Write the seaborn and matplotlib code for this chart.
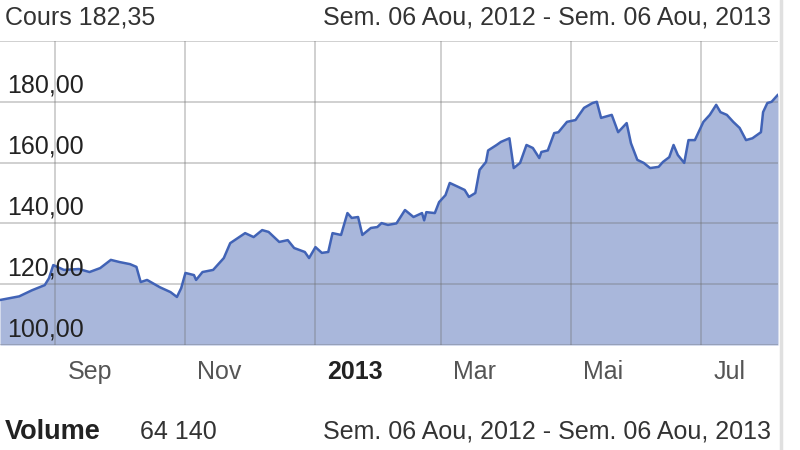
import pandas as pd
import seaborn as sns
import matplotlib.pyplot as plt
from matplotlib.lines import Line2D
from matplotlib.transforms import offset_copy

# Price data (date, closing price)
dates = ['2012-08-06', '2012-08-15', '2012-08-21', '2012-08-27', '2012-08-29', '2012-08-31',
         '2012-09-05', '2012-09-12', '2012-09-17', '2012-09-22', '2012-09-27', '2012-10-01',
         '2012-10-06', '2012-10-09', '2012-10-11', '2012-10-14', '2012-10-20', '2012-10-25',
         '2012-10-28', '2012-10-30', '2012-11-01', '2012-11-05', '2012-11-06', '2012-11-09',
         '2012-11-14', '2012-11-19', '2012-11-22', '2012-11-29', '2012-12-03', '2012-12-07',
         '2012-12-10', '2012-12-15', '2012-12-19', '2012-12-22', '2012-12-27', '2012-12-29',
         '2013-01-01', '2013-01-04', '2013-01-07', '2013-01-09', '2013-01-13', '2013-01-16',
         '2013-01-18', '2013-01-21', '2013-01-23', '2013-01-27', '2013-01-30', '2013-02-01',
         '2013-02-04', '2013-02-08', '2013-02-12', '2013-02-16', '2013-02-20', '2013-02-21',
         '2013-02-22', '2013-02-26', '2013-02-28', '2013-03-03', '2013-03-05', '2013-03-09',
         '2013-03-12', '2013-03-14', '2013-03-17', '2013-03-19', '2013-03-22', '2013-03-23',
         '2013-03-27', '2013-03-29', '2013-04-02', '2013-04-04', '2013-04-07', '2013-04-10',
         '2013-04-13', '2013-04-16', '2013-04-17', '2013-04-20', '2013-04-23', '2013-04-25',
         '2013-04-29', '2013-05-03', '2013-05-07', '2013-05-11', '2013-05-13', '2013-05-15',
         '2013-05-20', '2013-05-23', '2013-05-27', '2013-05-29', '2013-06-01', '2013-06-04',
         '2013-06-07', '2013-06-11', '2013-06-13', '2013-06-16', '2013-06-18', '2013-06-20',
         '2013-06-23', '2013-06-25', '2013-06-28', '2013-07-02', '2013-07-05', '2013-07-08',
         '2013-07-10', '2013-07-13', '2013-07-16', '2013-07-19', '2013-07-22', '2013-07-25',
         '2013-07-29', '2013-07-30', '2013-08-01', '2013-08-03', '2013-08-06']
prices = [114.8, 116.0, 118.0, 119.7, 122.0, 126.3,
          124.7, 125.0, 124.0, 125.3, 128.0, 127.3,
          126.6, 125.7, 120.7, 121.4, 119.0, 117.4,
          115.8, 118.7, 123.7, 123.0, 121.4, 124.0,
          124.7, 128.6, 133.5, 136.8, 135.5, 137.8,
          137.2, 133.9, 134.5, 131.9, 130.6, 128.6,
          132.2, 130.3, 130.6, 136.8, 136.2, 143.4,
          141.8, 142.1, 136.2, 138.5, 138.8, 140.1,
          139.5, 140.0, 144.4, 142.1, 143.4, 141.0,
          143.7, 143.4, 147.0, 149.3, 153.3, 152.0,
          151.0, 148.7, 150.0, 157.6, 160.2, 164.0,
          165.8, 166.8, 168.0, 158.2, 159.9, 165.8,
          164.8, 161.5, 163.5, 164.0, 169.7, 170.0,
          173.4, 174.0, 178.0, 179.6, 180.0, 174.7,
          175.7, 170.0, 173.0, 166.4, 160.9, 159.9,
          158.2, 158.6, 160.2, 161.8, 165.8, 162.5,
          159.9, 167.4, 167.4, 173.4, 175.7, 179.0,
          176.6, 175.7, 173.4, 171.4, 167.4, 168.0,
          170.0, 176.6, 179.6, 180.0, 182.35]

month_ticks = ['2012-09-01', '2012-11-01', '2013-01-01', '2013-03-01', '2013-05-01', '2013-07-01']
month_labels = ['Sep', 'Nov', '2013', 'Mar', 'Mai', 'Jul']
price_ticks = [100, 120, 140, 160, 180]
price_labels = ['100,00', '120,00', '140,00', '160,00', '180,00']

df = pd.DataFrame({'date': pd.to_datetime(dates), 'price': prices})

sns.set_style('white')
plt.rcParams['font.family'] = ['Liberation Sans', 'DejaVu Sans']

fig = plt.figure(figsize=(8, 4.5), dpi=100)
ax = fig.add_axes([0, 1 - 345 / 450, 778 / 800, 304 / 450])

ax.fill_between(df['date'], df['price'], 100, color='#a9b7db', lw=0, zorder=1)
sns.lineplot(data=df, x='date', y='price', ax=ax, color='#4163b6', lw=1.8, zorder=3)

ax.set_xlim(pd.Timestamp('2012-08-06'), pd.Timestamp('2013-08-06'))
ax.set_ylim(100, 200)
ax.set_xlabel('')
ax.set_ylabel('')
for s in ax.spines.values():
    s.set_visible(False)

# grid drawn above the fill, semi transparent so it darkens over the area
ax.set_axisbelow(False)
ax.set_yticks(price_ticks + [200])
ax.set_xticks(pd.to_datetime(month_ticks))
ax.grid(True, color='#707070', alpha=0.35, lw=1.3, zorder=2)
ax.tick_params(axis='x', length=38, width=1.3, color='#d0d0d0', direction='out',
               labelbottom=False)
ax.tick_params(axis='y', length=0, labelleft=False)

# y labels sit above their gridline, inside the plot
ytr = offset_copy(ax.get_yaxis_transform(), fig=fig, x=7, y=16, units='dots')
for v, lab in zip(price_ticks, price_labels):
    ax.text(0, v, lab, transform=ytr, ha='left', va='center', fontsize=18,
            color='#222222', zorder=5)

# month labels to the right of their tick
xtr = offset_copy(ax.get_xaxis_transform(), fig=fig, x=12, y=0, units='dots')
for d, lab in zip(pd.to_datetime(month_ticks), month_labels):
    bold = lab == '2013'
    ax.text(d, -27 / 304, lab, transform=xtr, ha='left', va='center', fontsize=18,
            color='#222222' if bold else '#555555',
            fontweight='bold' if bold else 'normal', clip_on=False)

# header and footer
fig.text(5 / 800, 1 - 18 / 450, 'Cours 182,35', ha='left', va='center',
         fontsize=18, color='#333333')
fig.text(771 / 800, 1 - 18 / 450, 'Sem. 06 Aou, 2012 - Sem. 06 Aou, 2013', ha='right',
         va='center', fontsize=18, color='#333333')
fig.text(5 / 800, 1 - 432 / 450, 'Volume', ha='left', va='center', fontsize=19.5,
         fontweight='bold', color='#222222')
fig.text(140 / 800, 1 - 432 / 450, '64 140', ha='left', va='center', fontsize=18,
         color='#333333')
fig.text(771 / 800, 1 - 432 / 450, 'Sem. 06 Aou, 2012 - Sem. 06 Aou, 2013', ha='right',
         va='center', fontsize=18, color='#333333')

# light border on the right side of the widget
fig.add_artist(Line2D([781 / 800, 781 / 800], [0, 1], color='#e0e0e0', lw=2.5))

fig.savefig('out.png', dpi=100)
